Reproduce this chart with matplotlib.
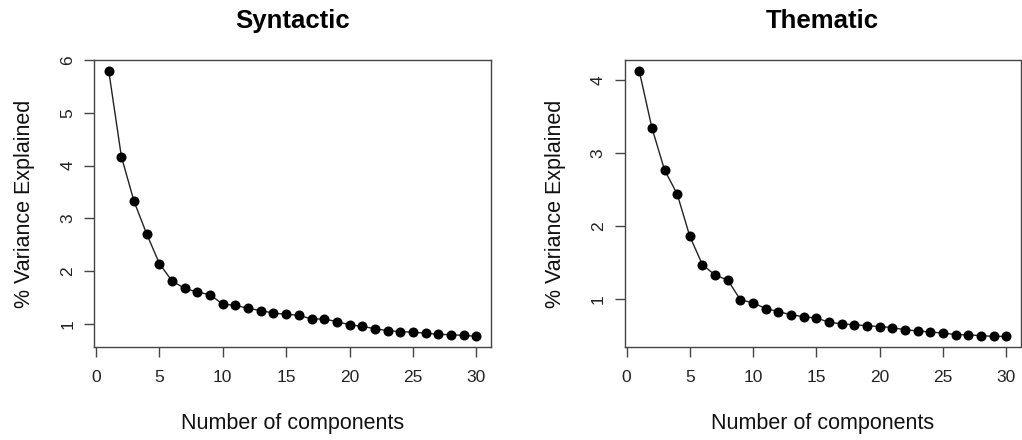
import matplotlib
matplotlib.use("Agg")
import matplotlib.pyplot as plt
import numpy as np

plt.rcParams['font.family'] = ['Liberation Sans', 'DejaVu Sans']

components = list(range(1, 31))
syntactic = [5.80, 4.17, 3.32, 2.70, 2.14, 1.81, 1.67, 1.60, 1.55, 1.37,
             1.35, 1.29, 1.25, 1.20, 1.18, 1.16, 1.09, 1.09, 1.04, 0.98,
             0.95, 0.905, 0.87, 0.85, 0.84, 0.82, 0.80, 0.79, 0.78, 0.76]
thematic = [4.13, 3.35, 2.77, 2.44, 1.86, 1.47, 1.33, 1.26, 0.99, 0.95,
            0.87, 0.83, 0.785, 0.76, 0.74, 0.685, 0.66, 0.65, 0.635, 0.625,
            0.61, 0.58, 0.565, 0.55, 0.535, 0.515, 0.51, 0.50, 0.49, 0.49]
titles = ["Syntactic", "Thematic"]
x_ticks = [0, 5, 10, 15, 20, 25, 30]
y_ticks = [[1, 2, 3, 4, 5, 6], [1, 2, 3, 4]]
xlabel = "Number of components"
ylabel = "% Variance Explained"

W, H = 1022, 440
fig = plt.figure(figsize=(W / 100, H / 100), dpi=100)

boxes = [(94, 60, 491, 347), (624.5, 60, 1021, 347)]
edge = '#444444'

for i, (vals, title) in enumerate(zip([syntactic, thematic], titles)):
    x0, y0, x1, y1 = boxes[i]
    ax = fig.add_axes([x0 / W, (H - y1) / H, (x1 - x0) / W, (y1 - y0) / H])
    ax.plot(components, vals, '-', color='#222222', lw=1.0,
            marker='o', markersize=6.2, markerfacecolor='black',
            markeredgecolor='black')
    xr = max(components) - min(components)
    ax.set_xlim(min(components) - 0.04 * xr, max(components) + 0.04 * xr)
    yr = max(vals) - min(vals)
    ax.set_ylim(min(vals) - 0.04 * yr, max(vals) + 0.04 * yr)
    ax.set_xticks(x_ticks)
    ax.set_yticks(y_ticks[i])
    ax.tick_params(axis='both', direction='out', length=7.5, width=1.0,
                   color=edge, labelsize=12.5, labelcolor='#222222')
    ax.tick_params(axis='x', pad=9)
    ax.tick_params(axis='y', pad=6)
    for lab in ax.get_yticklabels():
        lab.set_rotation(90)
        lab.set_va('center')
    for sp in ax.spines.values():
        sp.set_color(edge)
        sp.set_linewidth(1.0)
    ax.set_xlabel(xlabel, fontsize=15.5, labelpad=20, color='#111111')
    ax.set_ylabel(ylabel, fontsize=15.5, labelpad=18, color='#111111')
    ax.set_title(title, fontsize=18.5, fontweight='bold', pad=23)

fig.savefig("out.png", dpi=100)
